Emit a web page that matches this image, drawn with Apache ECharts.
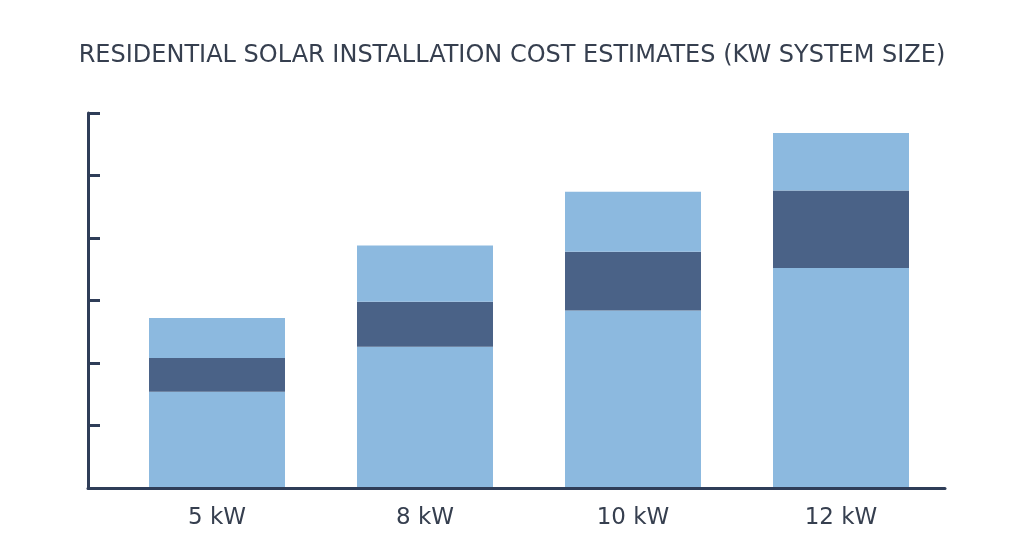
<!DOCTYPE html>
<html>
<head>
<meta charset="utf-8">
<script src="https://cdn.jsdelivr.net/npm/echarts@6/dist/echarts.min.js"></script>
<style>
  html, body { margin: 0; padding: 0; background: #fff; }
  #chart { width: 1024px; height: 559px; }
</style>
</head>
<body>
<div id="chart"></div>
<script>
// system sizes and stacked cost segments (thousand $, no labels on the axis)
const categories = ['5 kW', '8 kW', '10 kW', '12 kW'];
const baseCost = [7.7, 11.3, 14.2, 17.6];
const midRange = [2.7, 3.6, 4.7, 6.2];
const upperRange = [3.2, 4.5, 4.8, 4.6];
const yMax = 30;
const yStep = 5;

const axisColor = '#2f3d58';
const lightBlue = '#8cb9df';
const darkBlue = '#4a6287';
const textColor = '#363f4f';
const fontName = 'DejaVu Sans';

const chart = echarts.init(document.getElementById('chart'));

chart.setOption({
  backgroundColor: '#fff',
  animation: false,
  title: {
    text: 'RESIDENTIAL SOLAR INSTALLATION COST ESTIMATES (KW SYSTEM SIZE)',
    left: 'center',
    top: 39,
    textStyle: {
      fontFamily: fontName,
      fontWeight: 'normal',
      fontSize: 24,
      color: textColor
    }
  },
  grid: [
    // frame grid: carries the axis lines
    { left: 88, right: 79, top: 113, bottom: 71 },
    // bar grid: categories start a little right of the y axis
    { left: 113, right: 79, top: 113, bottom: 71 }
  ],
  xAxis: [
    {
      gridIndex: 0,
      type: 'value',
      min: 0,
      max: 1,
      z: 5,
      axisLine: { show: true, lineStyle: { color: axisColor, width: 3 } },
      axisTick: { show: false },
      axisLabel: { show: false },
      splitLine: { show: false }
    },
    {
      gridIndex: 1,
      type: 'category',
      data: categories,
      axisLine: { show: false },
      axisTick: { show: false },
      axisLabel: {
        margin: 19,
        fontFamily: fontName,
        fontSize: 23,
        color: textColor
      }
    }
  ],
  yAxis: [
    {
      gridIndex: 0,
      type: 'value',
      min: 0,
      max: yMax,
      interval: yStep,
      z: 5,
      axisLine: { show: true, lineStyle: { color: axisColor, width: 3 } },
      axisTick: { show: true, inside: true, length: 12, lineStyle: { color: axisColor, width: 3 } },
      axisLabel: { show: false },
      splitLine: { show: false }
    },
    {
      gridIndex: 1,
      type: 'value',
      min: 0,
      max: yMax,
      interval: yStep,
      show: false
    }
  ],
  series: [
    {
      name: 'Base',
      type: 'bar',
      xAxisIndex: 1,
      yAxisIndex: 1,
      stack: 'cost',
      barWidth: 136,
      itemStyle: { color: lightBlue },
      data: baseCost
    },
    {
      name: 'Typical',
      type: 'bar',
      xAxisIndex: 1,
      yAxisIndex: 1,
      stack: 'cost',
      barWidth: 136,
      itemStyle: { color: darkBlue },
      data: midRange
    },
    {
      name: 'Upper',
      type: 'bar',
      xAxisIndex: 1,
      yAxisIndex: 1,
      stack: 'cost',
      barWidth: 136,
      itemStyle: { color: lightBlue },
      data: upperRange
    }
  ]
});
</script>
</body>
</html>
